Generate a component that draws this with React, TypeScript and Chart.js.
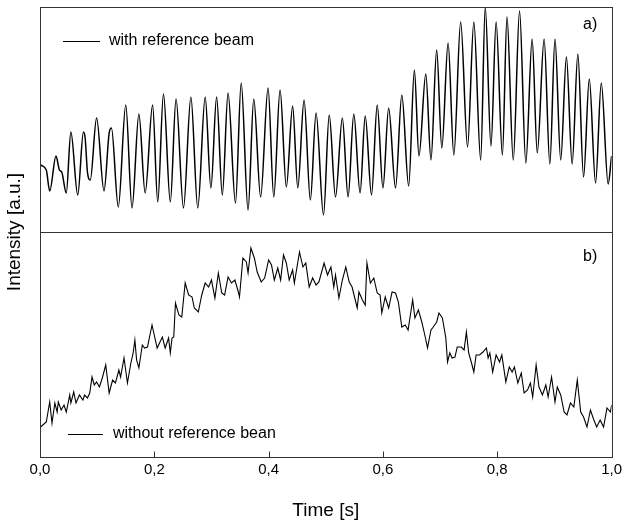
import React, { useEffect, useRef } from 'react';
import { Chart, registerables } from 'chart.js';

Chart.register(...registerables);

const FONT = '"Liberation Sans", Arial, Helvetica, sans-serif';

const X_TICKS = [0, 0.2, 0.4, 0.6, 0.8, 1.0];
const X_TITLE = 'Time [s]';
const Y_TITLE = 'Intensity [a.u.]';
const LABEL_A = 'with reference beam';
const LABEL_B = 'without reference bean';
const PANEL_A = 'a)';
const PANEL_B = 'b)';

// Panel a) — with reference beam (extrema of the interference signal)
const TIME_A = [
  0.001, 0.011, 0.017, 0.028, 0.034, 0.038, 0.046, 0.054, 0.066, 0.076,
  0.079, 0.083, 0.088, 0.099, 0.112, 0.121, 0.125, 0.137, 0.150, 0.161,
  0.173, 0.184, 0.197, 0.206, 0.216, 0.228, 0.238, 0.251, 0.264, 0.276,
  0.289, 0.299, 0.309, 0.319, 0.329, 0.342, 0.352, 0.364, 0.374, 0.386,
  0.399, 0.409, 0.420, 0.431, 0.442, 0.451, 0.462, 0.473, 0.483, 0.496,
  0.506, 0.517, 0.529, 0.539, 0.549, 0.560, 0.569, 0.580, 0.590, 0.600,
  0.610, 0.622, 0.633, 0.645, 0.655, 0.663, 0.675, 0.684, 0.694, 0.703,
  0.714, 0.724, 0.736, 0.748, 0.759, 0.771, 0.779, 0.789, 0.798, 0.809,
  0.817, 0.828, 0.839, 0.850, 0.861, 0.870, 0.882, 0.892, 0.901, 0.911,
  0.921, 0.931, 0.941, 0.951, 0.961, 0.972, 0.982, 0.994, 1.000,
];
const INTENSITY_A = [
  67, 62, 41, 76, 62, 60, 39, 100, 37, 100,
  94, 60, 52, 114, 41, 99, 104, 25, 127, 24,
  118, 39, 127, 30, 138, 30, 133, 24, 135, 24,
  135, 44, 135, 37, 139, 29, 149, 22, 133, 35,
  144, 35, 142, 45, 126, 44, 132, 32, 119, 17,
  117, 35, 114, 35, 118, 39, 116, 37, 127, 44,
  124, 44, 137, 46, 162, 76, 158, 72, 182, 84,
  189, 77, 210, 85, 210, 72, 225, 86, 210, 77,
  215, 72, 221, 69, 193, 79, 193, 68, 193, 72,
  175, 68, 178, 55, 153, 49, 149, 48, 76,
];

// Panel b) — without reference beam
const TIME_B = [
  0.001, 0.011, 0.017, 0.021, 0.026, 0.030, 0.032, 0.037, 0.042, 0.046,
  0.052, 0.054, 0.059, 0.063, 0.069, 0.075, 0.078, 0.083, 0.087, 0.091,
  0.095, 0.099, 0.104, 0.109, 0.115, 0.121, 0.127, 0.132, 0.138, 0.141,
  0.147, 0.153, 0.159, 0.163, 0.166, 0.169, 0.173, 0.179, 0.183, 0.188,
  0.196, 0.205, 0.214, 0.219, 0.225, 0.228, 0.231, 0.234, 0.237, 0.243,
  0.248, 0.254, 0.260, 0.266, 0.270, 0.277, 0.283, 0.289, 0.295, 0.300,
  0.306, 0.312, 0.318, 0.323, 0.329, 0.335, 0.341, 0.347, 0.349, 0.355,
  0.361, 0.364, 0.369, 0.375, 0.380, 0.387, 0.393, 0.400, 0.405, 0.410,
  0.416, 0.421, 0.426, 0.431, 0.436, 0.442, 0.445, 0.454, 0.460, 0.465,
  0.471, 0.477, 0.483, 0.488, 0.497, 0.503, 0.509, 0.514, 0.517, 0.523,
  0.529, 0.535, 0.541, 0.546, 0.555, 0.558, 0.564, 0.569, 0.572, 0.578,
  0.584, 0.590, 0.595, 0.598, 0.604, 0.610, 0.616, 0.622, 0.627, 0.633,
  0.639, 0.644, 0.648, 0.652, 0.656, 0.662, 0.668, 0.674, 0.678, 0.684,
  0.688, 0.694, 0.698, 0.704, 0.710, 0.713, 0.717, 0.721, 0.726, 0.730,
  0.737, 0.742, 0.746, 0.750, 0.755, 0.759, 0.763, 0.769, 0.775, 0.781,
  0.784, 0.787, 0.792, 0.798, 0.804, 0.808, 0.815, 0.821, 0.826, 0.830,
  0.836, 0.842, 0.847, 0.853, 0.858, 0.862, 0.868, 0.873, 0.879, 0.885,
  0.889, 0.895, 0.901, 0.905, 0.911, 0.917, 0.922, 0.928, 0.934, 0.940,
  0.946, 0.951, 0.957, 0.963, 0.969, 0.974, 0.980, 0.986, 0.992, 0.998,
  1.000,
];
const INTENSITY_B = [
  30, 35, 55, 34, 54, 45, 55, 47, 52, 45,
  62, 54, 65, 54, 62, 57, 62, 59, 64, 80,
  72, 75, 70, 79, 92, 64, 77, 74, 87, 80,
  99, 74, 94, 104, 117, 97, 89, 112, 109, 110,
  132, 109, 120, 109, 119, 104, 119, 120, 154, 142,
  140, 174, 162, 160, 149, 145, 162, 174, 170, 177,
  159, 184, 164, 162, 180, 174, 177, 165, 160, 199,
  195, 184, 209, 199, 185, 175, 179, 197, 192, 177,
  189, 177, 202, 194, 177, 187, 174, 205, 190, 194,
  170, 179, 172, 175, 194, 182, 190, 170, 182, 159,
  177, 190, 175, 170, 149, 165, 157, 152, 194, 174,
  179, 164, 162, 144, 160, 149, 165, 164, 155, 130,
  132, 127, 142, 157, 139, 147, 135, 120, 109, 127,
  130, 135, 144, 139, 119, 95, 104, 99, 100, 110,
  110, 107, 125, 104, 94, 85, 102, 102, 105, 109,
  99, 104, 85, 102, 95, 102, 75, 90, 85, 90,
  74, 84, 64, 67, 74, 60, 92, 70, 62, 72,
  60, 80, 55, 70, 62, 45, 42, 54, 50, 77,
  45, 40, 30, 47, 37, 30, 37, 30, 49, 45,
  52,
];

const Y_MIN = 0;
const Y_MAX = 225;

const decorPlugin = {
  id: 'decor',
  afterDraw(chart: any) {
    const { ctx, chartArea, scales } = chart;
    const xs = scales.x;
    const ya = scales.yA;
    const yb = scales.yB;
    const L = Math.round(chartArea.left);
    const R = Math.round(chartArea.right);
    ctx.save();
    ctx.strokeStyle = '#333333';
    ctx.lineWidth = 1;
    for (const s of [ya, yb]) {
      const t = Math.round(s.top);
      const b = Math.round(s.bottom);
      ctx.strokeRect(L + 0.5, t + 0.5, R - L, b - t);
    }
    // inward tick marks on the bottom axis
    ctx.beginPath();
    const bottom = Math.round(yb.bottom) + 0.5;
    for (const v of X_TICKS) {
      const px = Math.round(xs.getPixelForValue(v)) + 0.5;
      ctx.moveTo(px, bottom);
      ctx.lineTo(px, bottom - 6);
    }
    ctx.stroke();

    ctx.fillStyle = '#000';
    ctx.strokeStyle = '#000';
    ctx.font = `16px ${FONT}`;
    ctx.textBaseline = 'middle';
    ctx.textAlign = 'left';
    // legend a)
    const la = ya.top + 34;
    ctx.beginPath();
    ctx.moveTo(L + 23, Math.round(la) + 0.5);
    ctx.lineTo(L + 60, Math.round(la) + 0.5);
    ctx.stroke();
    ctx.fillText(LABEL_A, L + 69, la);
    // legend b)
    const lb = yb.bottom - 23;
    ctx.beginPath();
    ctx.moveTo(L + 28, Math.round(lb) + 0.5);
    ctx.lineTo(L + 63, Math.round(lb) + 0.5);
    ctx.stroke();
    ctx.fillText(LABEL_B, L + 73, lb);
    // panel letters
    ctx.fillText(PANEL_A, R - 29, ya.top + 18);
    ctx.fillText(PANEL_B, R - 29, yb.top + 25);

    // axis titles
    ctx.font = `19px ${FONT}`;
    ctx.textAlign = 'center';
    ctx.fillText(X_TITLE, (chartArea.left + chartArea.right) / 2, 511);
    ctx.save();
    ctx.translate(15, (chartArea.top + chartArea.bottom) / 2);
    ctx.rotate(-Math.PI / 2);
    ctx.fillText(Y_TITLE, 0, 0);
    ctx.restore();
    ctx.restore();
  },
};

export default function App() {
  const ref = useRef<HTMLCanvasElement | null>(null);
  useEffect(() => {
    if (!ref.current) return;
    const dataA = TIME_A.map((t, i) => ({ x: t, y: INTENSITY_A[i] }));
    const dataB = TIME_B.map((t, i) => ({ x: t, y: INTENSITY_B[i] }));
    const yScale = () => ({
      type: 'linear' as const,
      position: 'left' as const,
      stack: 'panels',
      stackWeight: 1,
      min: Y_MIN,
      max: Y_MAX,
      ticks: { display: false },
      grid: { display: false, drawTicks: false },
      border: { display: false },
      afterFit: (s: any) => {
        s.width = 40;
      },
    });
    const chart = new Chart(ref.current, {
      type: 'line',
      data: {
        datasets: [
          {
            label: LABEL_A,
            data: dataA,
            yAxisID: 'yA',
            borderColor: '#000',
            borderWidth: 1.5,
            pointRadius: 0,
            cubicInterpolationMode: 'monotone',
            fill: false,
          },
          {
            label: LABEL_B,
            data: dataB,
            yAxisID: 'yB',
            borderColor: '#000',
            borderWidth: 1.1,
            pointRadius: 0,
            tension: 0,
            fill: false,
          },
        ],
      },
      options: {
        animation: false,
        responsive: true,
        maintainAspectRatio: false,
        events: [],
        layout: { padding: { top: 7, right: 10, left: 0, bottom: 0 } },
        plugins: { legend: { display: false }, tooltip: { enabled: false } },
        scales: {
          x: {
            type: 'linear',
            position: 'bottom',
            min: 0,
            max: 1,
            afterBuildTicks: (s: any) => {
              s.ticks = X_TICKS.map((v) => ({ value: v }));
            },
            ticks: {
              color: '#000',
              font: { family: FONT, size: 15 },
              padding: 4,
              maxRotation: 0,
              autoSkip: false,
              callback: (v: any) => Number(v).toFixed(1).replace('.', ','),
            },
            grid: { display: false, drawTicks: false },
            border: { display: false },
            afterFit: (s: any) => {
              s.height = 66;
            },
          },
          yB: yScale(),
          yA: yScale(),
        },
      },
      plugins: [decorPlugin],
    } as any);
    return () => chart.destroy();
  }, []);
  return (
    <div style={{ position: 'fixed', left: 0, top: 0, width: 626, height: 523, background: '#fff' }}>
      <canvas ref={ref} />
    </div>
  );
}
